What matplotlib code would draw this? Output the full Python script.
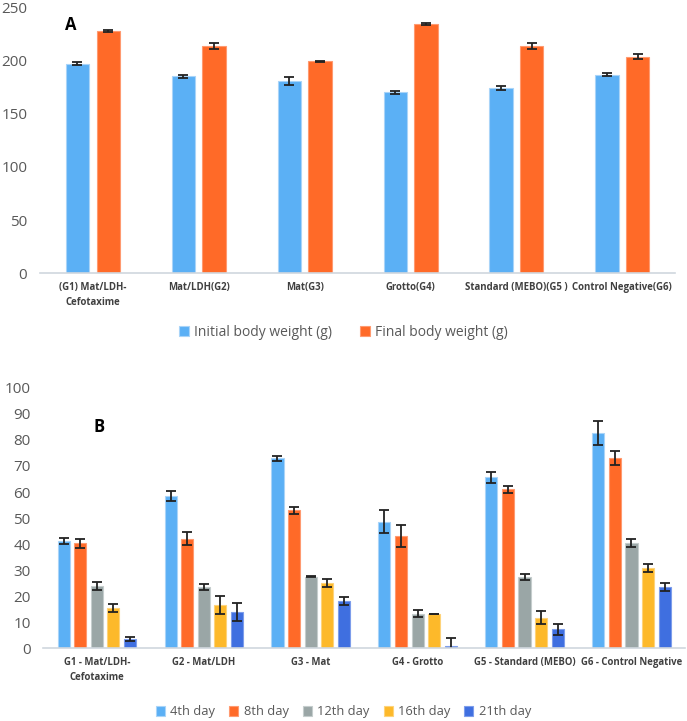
import numpy as np
from matplotlib import pyplot as plt

plt.rcParams['font.family'] = ['Open Sans', 'DejaVu Sans']

# Panel A - body weight
groups_a = ['(G1) Mat/LDH-\nCefotaxime', 'Mat/LDH(G2)', 'Mat(G3)', 'Grotto(G4)',
            'Standard (MEBO)(G5 )', 'Control Negative(G6)']
initial_bw = [197, 185.2, 180.5, 170, 174, 186.7]
initial_err = [1.5, 1.5, 3.5, 1.5, 1.5, 1.5]
final_bw = [227.8, 213.6, 199, 234.5, 213.6, 203.5]
final_err = [1, 2.5, 0.5, 1, 2.5, 2.5]

# Panel B - wound area by day
groups_b = ['G1 - Mat/LDH-\nCefotaxime', 'G2 - Mat/LDH', 'G3 - Mat', 'G4 - Grotto',
            'G5 - Standard (MEBO)', 'G6 - Control Negative']
days = ['4th day', '8th day', '12th day', '16th day', '21th day']
day4 = [41.3, 58.5, 73, 48.6, 65.6, 82.8]
day4_err = [1.2, 1.8, 1, 4.4, 2.2, 4.6]
day8 = [40.3, 42, 53, 43, 61, 73]
day8_err = [1.7, 2.5, 1.3, 4.3, 1.5, 2.8]
day12 = [24, 23.5, 27.5, 13.3, 27.4, 40.5]
day12_err = [1.5, 1.2, 0.2, 1.5, 1.2, 1.5]
day16 = [15.5, 16.5, 25, 13.2, 11.7, 30.9]
day16_err = [1.5, 3.5, 1.5, 0, 2.5, 1.5]
day21 = [3.5, 14, 18, 1.0, 7.2, 23.6]
day21_err = [0.8, 3.5, 1.5, 2.8, 2, 1.5]

c_blue = '#5BB0F5'
c_orange = '#FF6A28'
c_grey = '#9AA6A6'
c_yellow = '#FDB92A'
c_dblue = '#3F6FE0'
tick_col = '#595959'
lab_col = '#404040'
err_kw = dict(ecolor='#222222', elinewidth=1.3, capsize=3.5, capthick=1.3)

fig = plt.figure(figsize=(6.87, 7.21), dpi=100)

# ---- panel A
ax1 = fig.add_axes([0.058, 0.621, 0.925, 0.369])
x = np.arange(len(groups_a))
w = 0.22
ax1.bar(x - 0.145, initial_bw, w, yerr=initial_err, color=c_blue, edgecolor='#A9D4F8',
        linewidth=0.8, error_kw=err_kw, label='Initial body weight (g)')
ax1.bar(x + 0.145, final_bw, w, yerr=final_err, color=c_orange, edgecolor='#FF9A70',
        linewidth=0.8, error_kw=err_kw, label='Final body weight (g)')
ax1.set_ylim(0, 250)
ax1.set_xlim(-0.5, len(groups_a) - 0.5)
ax1.set_yticks(range(0, 251, 50))
ax1.set_xticks(x)
ax1.set_xticklabels(groups_a, fontsize=6.9, fontweight='bold', color=lab_col, linespacing=1.5)
ax1.text(0.04, 0.915, 'A', transform=ax1.transAxes, fontsize=12, fontweight='bold')
fig.legend(*ax1.get_legend_handles_labels(), loc='center', bbox_to_anchor=(0.5, 1 - 332 / 721),
           ncol=2, frameon=False, fontsize=10, handlelength=0.7, handleheight=0.7,
           handletextpad=0.4, columnspacing=2.0, labelcolor=tick_col)

# ---- panel B
ax2 = fig.add_axes([0.063, 0.101, 0.934, 0.361])
x2 = np.arange(len(groups_b))
wb = 0.113
step = 0.155
vals = [day4, day8, day12, day16, day21]
errs = [day4_err, day8_err, day12_err, day16_err, day21_err]
cols = [c_blue, c_orange, c_grey, c_yellow, c_dblue]
edges = ['#A9D4F8', '#FF9A70', '#C5CDCD', '#FED37A', '#7D9DEB']
for i in range(len(days)):
    ax2.bar(x2 + (i - 2) * step, vals[i], wb, yerr=errs[i], color=cols[i],
            edgecolor=edges[i], linewidth=0.8, error_kw=err_kw, label=days[i])
ax2.set_ylim(0, 100)
ax2.set_xlim(-0.5, len(groups_b) - 0.5)
ax2.set_yticks(range(0, 101, 10))
ax2.set_xticks(x2)
ax2.set_xticklabels(groups_b, fontsize=6.9, fontweight='bold', color=lab_col, linespacing=1.5)
ax2.text(0.078, 0.83, 'B', transform=ax2.transAxes, fontsize=12, fontweight='bold')
fig.legend(*ax2.get_legend_handles_labels(), loc='center', bbox_to_anchor=(0.5, 1 - 712 / 721),
           ncol=5, frameon=False, fontsize=9.3, handlelength=0.7, handleheight=0.7,
           handletextpad=0.4, columnspacing=1.1, labelcolor=tick_col)

for ax in (ax1, ax2):
    for s in ('top', 'right', 'left'):
        ax.spines[s].set_visible(False)
    ax.spines['bottom'].set_color('#D0D7DE')
    ax.spines['bottom'].set_linewidth(1.2)
    ax.tick_params(axis='y', length=0, labelsize=11, labelcolor=tick_col, pad=9)
    ax.tick_params(axis='x', length=0, pad=6)

plt.savefig('out.png', dpi=100)
plt.close()
